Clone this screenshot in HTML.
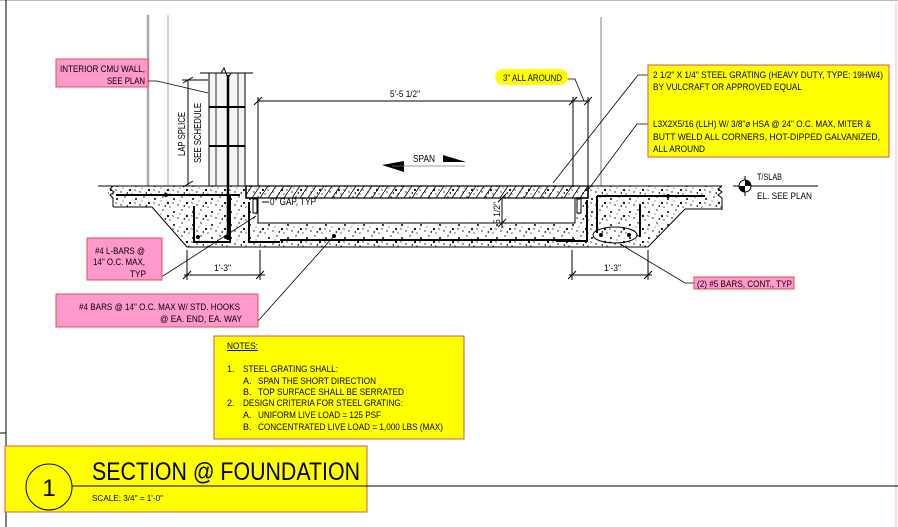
<!DOCTYPE html>
<html><head><meta charset="utf-8"><style>
html,body{margin:0;padding:0;background:#fff}
svg{display:block}
text{font-family:"Liberation Sans",sans-serif;fill:#000}
</style></head><body>
<svg width="898" height="527" viewBox="0 0 898 527" xmlns="http://www.w3.org/2000/svg">
<defs>
<pattern id="hatch" width="8" height="12" patternUnits="userSpaceOnUse">
<line x1="0" y1="12" x2="8" y2="0" stroke="#000" stroke-width="0.8"/>
</pattern>
<pattern id="conc" width="19" height="13" patternUnits="userSpaceOnUse">
<circle cx="3" cy="4" r="1" fill="#000"/><circle cx="11" cy="2" r="0.7" fill="#000"/>
<circle cx="16" cy="8" r="1.1" fill="#000"/><circle cx="7" cy="10" r="0.7" fill="#000"/>
<path d="M12 11 l2 -1 l0 2z" fill="#000"/><circle cx="18" cy="12" r="0.6" fill="#000"/>
<path d="M1 7 l2 1 l-1 1z" fill="#222"/><circle cx="9" cy="6" r="0.5" fill="#000"/>
</pattern>
</defs>
<rect width="898" height="527" fill="#fff"/>
<line x1="0" y1="0.5" x2="898" y2="0.5" stroke="#bbb"/>
<line x1="6" y1="0" x2="6" y2="527" stroke="#000"/>
<line x1="0" y1="433" x2="6" y2="433" stroke="#000"/>
<line x1="896" y1="0" x2="896" y2="527" stroke="#f4b8c8"/>
<line x1="148" y1="15" x2="148" y2="186" stroke="#aaa" stroke-width="2.5"/>
<line x1="168" y1="15" x2="168" y2="186" stroke="#aaa"/>
<line x1="601" y1="17" x2="601" y2="186" stroke="#aaa" stroke-width="1.5"/>
<path d="M98 186 L722 186 L718 193 L722 198 L722 209 L685 209 L648 247 L187 247 L152 207 L113 207 L113 198 L108 193 L113 186 Z" fill="url(#conc)" stroke="none"/>
<rect x="258" y="198" width="317" height="25" fill="#fff"/>
<path d="M98 186 H722 M113 207 H152 L187 247 H648 L685 209 H722 M258 198 V223 H575 V198" fill="none" stroke="#000" stroke-width="1"/>
<path d="M113 186 l-3 3 l4 3 l-4 3 l3 3 v9 M722 186 l-4 3 l4 3 l-4 3 l4 3 v12" fill="none" stroke="#000"/>
<rect x="246" y="186" width="342" height="12" fill="url(#hatch)" stroke="#000" stroke-width="1.2"/>
<path d="M246 186 V198 H258 M588 186 V198 H576" fill="none" stroke="#000" stroke-width="1.5"/>
<rect x="253" y="199" width="4" height="14" fill="#fff" stroke="#000"/>
<rect x="577" y="199" width="4" height="14" fill="#fff" stroke="#000"/>
<g stroke="#000" stroke-width="2" fill="none">
<path d="M116 195 H240"/><path d="M194 206 V242 H230 V195"/>
<path d="M249 202 V242 H280 M280 240 H575"/>
<path d="M597 196 V233 M597 196 H705 M640 204 V237"/>
<path d="M556 241 H587 V200"/>
</g>
<g fill="#000"><circle cx="198" cy="237" r="2"/><circle cx="226" cy="237" r="2"/><circle cx="166" cy="195" r="2"/><circle cx="334" cy="236" r="2"/><circle cx="601" cy="235" r="2"/><circle cx="629" cy="235" r="2"/><circle cx="668" cy="196" r="2"/></g>
<ellipse cx="615" cy="235" rx="22" ry="8" fill="none" stroke="#000"/>
<rect x="209" y="73" width="36" height="113" fill="#f4f4f4" stroke="#000"/>
<path d="M200 73 H221 L224 68 L228 78 L231 73 L253 73" fill="none" stroke="#000"/>
<path d="M209 107 H245 M209 146 H245" stroke="#000" stroke-width="2"/>
<path d="M216 73 V186 M238 73 V186" stroke="#000" stroke-width="0.8"/>
<path d="M228 75 V240" stroke="#000" stroke-width="2.5"/>
<path d="M188 80 V185 M183 83 l10 -6 M183 187 l10 -6 M182 80 H208" stroke="#000" fill="none"/>
<text transform="translate(185,156) rotate(-90)" font-size="10" textLength="44" lengthAdjust="spacingAndGlyphs">LAP SPLICE</text>
<text transform="translate(201,163) rotate(-90)" font-size="10" textLength="60" lengthAdjust="spacingAndGlyphs">SEE SCHEDULE</text>
<path d="M258 101 H590 M258 97 V186 M573 97 V186 M588 97 V186 M254 105 l8 -8 M569 105 l8 -8 M584 105 l8 -8" stroke="#000" fill="none"/>
<text x="390" y="97" font-size="9.5" textLength="30" lengthAdjust="spacingAndGlyphs">5'-5 1/2"</text>
<text x="413" y="162" font-size="10" textLength="22" lengthAdjust="spacingAndGlyphs">SPAN</text>
<path d="M382 165 L404 161 L404 172 Z M443 155 L466 162 L443 162 Z" fill="#000"/>
<line x1="392" y1="166" x2="465" y2="166" stroke="#777" stroke-width="0.8"/>
<path d="M502 198 V228 M498 202 l8 -8 M498 227 l8 -8" stroke="#000"/>
<text transform="translate(500,224) rotate(-90)" font-size="9.5" textLength="22" lengthAdjust="spacingAndGlyphs">5 1/2"</text>
<text x="270" y="205" font-size="10" textLength="46" lengthAdjust="spacingAndGlyphs">0" GAP, TYP</text>
<line x1="262" y1="202" x2="269" y2="202" stroke="#000"/>
<path d="M184 275 H265 M187 250 V280 M260 250 V280 M183 279 l8 -8 M256 279 l8 -8" stroke="#000" fill="none"/>
<text x="214" y="271" font-size="9.5" textLength="17" lengthAdjust="spacingAndGlyphs">1'-3"</text>
<path d="M569 275 H652 M572 250 V280 M648 250 V280 M568 279 l8 -8 M644 279 l8 -8" stroke="#000" fill="none"/>
<text x="604" y="271" font-size="9.5" textLength="17" lengthAdjust="spacingAndGlyphs">1'-3"</text>
<line x1="733" y1="186" x2="818" y2="186" stroke="#000"/>
<line x1="745" y1="176" x2="745" y2="196" stroke="#000"/>
<circle cx="745" cy="186" r="6" fill="#fff" stroke="#000"/>
<path d="M745 186 V180 A6 6 0 0 1 751 186 Z M745 186 V192 A6 6 0 0 1 739 186 Z" fill="#000"/>
<text x="757" y="180" font-size="9.5" textLength="25" lengthAdjust="spacingAndGlyphs">T/SLAB</text>
<text x="757" y="199" font-size="9.5" textLength="55" lengthAdjust="spacingAndGlyphs">EL. SEE PLAN</text>
<g stroke="#000" fill="none" stroke-width="0.8">
<path d="M148 81 L157 81 L208 93"/>
<path d="M150 276 L163 276 L256 216"/>
<path d="M244 321 L258 321 L334 236"/>
<path d="M563 79 L575 79 L584 101"/>
<path d="M648 75 L638 75 L553 183"/>
<path d="M648 124 L637 124 L588 190"/>
<path d="M694 283 L685 283 L620 244"/>
</g>
<rect x="56" y="59" width="92" height="28" fill="#ff99cc" stroke="#e05050"/>
<text x="60" y="72" font-size="9.5" textLength="85" lengthAdjust="spacingAndGlyphs">INTERIOR CMU WALL,</text>
<text x="107" y="84" font-size="9.5" textLength="38" lengthAdjust="spacingAndGlyphs">SEE PLAN</text>
<rect x="87" y="238" width="75" height="42" fill="#ff99cc" stroke="#e05050"/>
<text x="95" y="254" font-size="9.5" textLength="50" lengthAdjust="spacingAndGlyphs">#4 L-BARS @</text>
<text x="93" y="265" font-size="9.5" textLength="52" lengthAdjust="spacingAndGlyphs">14" O.C. MAX,</text>
<text x="130" y="277" font-size="9.5" textLength="16" lengthAdjust="spacingAndGlyphs">TYP</text>
<rect x="56" y="294" width="202" height="33" fill="#ff99cc" stroke="#e05050"/>
<text x="79" y="310" font-size="9.5" textLength="161" lengthAdjust="spacingAndGlyphs">#4 BARS @ 14" O.C. MAX W/ STD. HOOKS</text>
<text x="160" y="322" font-size="9.5" textLength="82" lengthAdjust="spacingAndGlyphs">@ EA. END, EA. WAY</text>
<rect x="495" y="69" width="73" height="16" rx="8" fill="#ffff00"/>
<text x="503" y="81" font-size="9.5" textLength="59" lengthAdjust="spacingAndGlyphs">3" ALL AROUND</text>
<rect x="648" y="65" width="241" height="92" fill="#ffff00" stroke="#e05050"/>
<text x="653" y="78" font-size="9.5" textLength="230" lengthAdjust="spacingAndGlyphs">2 1/2" X 1/4" STEEL GRATING (HEAVY DUTY, TYPE: 19HW4)</text>
<text x="653" y="90" font-size="9.5" textLength="149" lengthAdjust="spacingAndGlyphs">BY VULCRAFT OR APPROVED EQUAL</text>
<text x="653" y="127" font-size="9.5" textLength="218" lengthAdjust="spacingAndGlyphs">L3X2X5/16 (LLH) W/ 3/8"⌀ HSA @ 24" O.C. MAX, MITER &amp;</text>
<text x="653" y="140" font-size="9.5" textLength="227" lengthAdjust="spacingAndGlyphs">BUTT WELD ALL CORNERS, HOT-DIPPED GALVANIZED,</text>
<text x="653" y="152" font-size="9.5" textLength="52" lengthAdjust="spacingAndGlyphs">ALL AROUND</text>
<rect x="694" y="277" width="100" height="12" fill="#ff99cc" stroke="#e05050"/>
<text x="697" y="287" font-size="9" textLength="95" lengthAdjust="spacingAndGlyphs">(2) #5 BARS, CONT., TYP</text>
<rect x="214" y="336" width="250" height="103" fill="#ffff00" stroke="#e05050"/>
<g font-size="9">
<text x="227" y="349" text-decoration="underline" textLength="31" lengthAdjust="spacingAndGlyphs">NOTES:</text>
<text x="227" y="372">1.</text><text x="243" y="372" textLength="95" lengthAdjust="spacingAndGlyphs">STEEL GRATING SHALL:</text>
<text x="243" y="384">A.</text><text x="258" y="384" textLength="118" lengthAdjust="spacingAndGlyphs">SPAN THE SHORT DIRECTION</text>
<text x="243" y="395">B.</text><text x="258" y="395" textLength="146" lengthAdjust="spacingAndGlyphs">TOP SURFACE SHALL BE SERRATED</text>
<text x="227" y="406">2.</text><text x="243" y="406" textLength="160" lengthAdjust="spacingAndGlyphs">DESIGN CRITERIA FOR STEEL GRATING:</text>
<text x="243" y="418">A.</text><text x="258" y="418" textLength="123" lengthAdjust="spacingAndGlyphs">UNIFORM LIVE LOAD = 125 PSF</text>
<text x="243" y="430">B.</text><text x="258" y="430" textLength="185" lengthAdjust="spacingAndGlyphs">CONCENTRATED LIVE LOAD = 1,000 LBS (MAX)</text>
</g>
<rect x="5" y="446" width="362" height="66" fill="#ffff00" stroke="#e05050"/>
<line x1="72" y1="486" x2="898" y2="486" stroke="#000"/>
<circle cx="49" cy="487" r="23" fill="none" stroke="#000"/>
<text x="49" y="496" font-size="24" text-anchor="middle">1</text>
<text x="92" y="480" font-size="25" textLength="268" lengthAdjust="spacingAndGlyphs">SECTION @ FOUNDATION</text>
<text x="92" y="501" font-size="8.5" textLength="71" lengthAdjust="spacingAndGlyphs">SCALE: 3/4" = 1'-0"</text>
</svg>
</body></html>
